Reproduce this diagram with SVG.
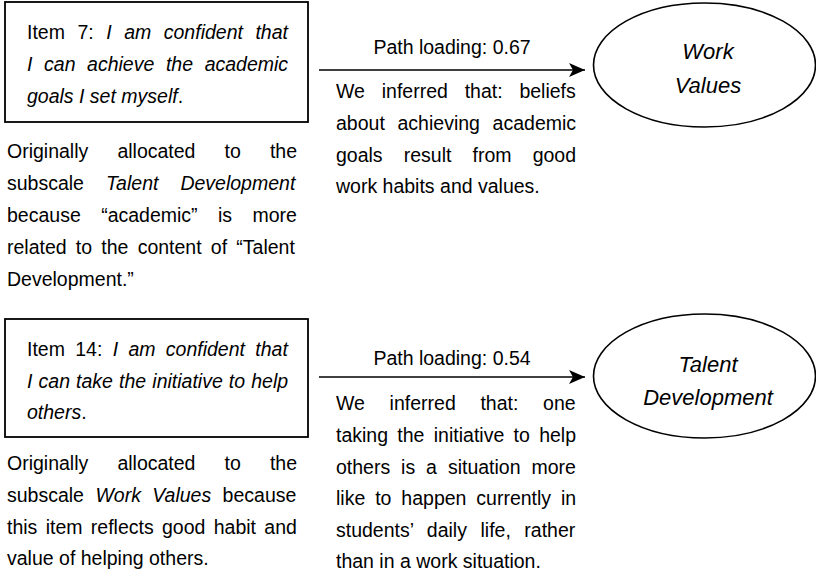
<svg xmlns="http://www.w3.org/2000/svg" width="816" height="573" viewBox="0 0 816 573">
  <defs>
    <style>
      text { font-family: "Liberation Sans", Arial, sans-serif; font-size: 19.5px; fill: #000; }
      .it { font-style: italic; }
      .mid { text-anchor: middle; }
      .factor { font-size: 22px; font-style: italic; text-anchor: middle; }
      .box { fill: #fff; stroke: #000; stroke-width: 1.8; }
      .oval { fill: #fff; stroke: #000; stroke-width: 1.6; }
      .edge { fill: none; stroke: #000; stroke-width: 1.6; marker-end: url(#head); }
    </style>
    <marker id="head" viewBox="-17 -8 19 16" refX="0" refY="0" markerWidth="19" markerHeight="16" markerUnits="userSpaceOnUse" orient="auto">
      <path d="M0,0 L-16,-7 L-12,0 L-16,7 Z" fill="#000"/>
    </marker>
  </defs>
  <rect width="816" height="573" fill="#fff"/>

  <!-- Item 7 -->
  <g id="item7">
    <rect class="box" x="5" y="2" width="303" height="120"/>
    <text x="27" y="39" word-spacing="7.1">Item 7: <tspan class="it">I am confident that</tspan></text>
    <text x="27" y="71" word-spacing="6.2" class="it">I can achieve the academic</text>
    <text x="27" y="103"><tspan class="it">goals I set myself</tspan>.</text>
  </g>
  <g id="item7-note">
    <text x="7" y="158" word-spacing="23.7">Originally allocated to the</text>
    <text x="7" y="190" word-spacing="16.6">subscale <tspan class="it">Talent Development</tspan></text>
    <text x="7" y="222" word-spacing="15">because “academic” is more</text>
    <text x="7" y="254" word-spacing="3.8">related to the content of “Talent</text>
    <text x="7" y="286">Development.”</text>
  </g>

  <!-- Work Values factor -->
  <g id="work-values">
    <ellipse class="oval" cx="704.5" cy="65" rx="111" ry="62"/>
    <text class="factor" x="708" y="59">Work</text>
    <text class="factor" x="708" y="93">Values</text>
  </g>

  <!-- Item 14 -->
  <g id="item14">
    <rect class="box" x="5" y="319" width="303" height="118"/>
    <text x="27" y="356" word-spacing="4.9">Item 14: <tspan class="it">I am confident that</tspan></text>
    <text x="27" y="388" word-spacing="0.7" class="it">I can take the initiative to help</text>
    <text x="27" y="419"><tspan class="it">others</tspan>.</text>
  </g>
  <g id="item14-note">
    <text x="7" y="470" word-spacing="23.7">Originally allocated to the</text>
    <text x="7" y="502" word-spacing="6">subscale <tspan class="it">Work Values</tspan> because</text>
    <text x="7" y="534" word-spacing="2.9">this item reflects good habit and</text>
    <text x="7" y="565">value of helping others.</text>
  </g>

  <!-- Talent Development factor -->
  <g id="talent-development">
    <ellipse class="oval" cx="704.5" cy="376" rx="111" ry="62"/>
    <text class="factor" x="708" y="372">Talent</text>
    <text class="factor" x="708" y="405">Development</text>
  </g>

  <!-- Connectors with their labels -->
  <g id="connectors">
    <line class="edge" x1="319" y1="70" x2="585" y2="70"/>
    <text class="mid" x="452" y="54">Path loading: 0.67</text>
    <text x="336" y="98" word-spacing="11.4">We inferred that: beliefs</text>
    <text x="336" y="130" word-spacing="7.3">about achieving academic</text>
    <text x="336" y="162" word-spacing="15.7">goals result from good</text>
    <text x="336" y="193">work habits and values.</text>

    <line class="edge" x1="319" y1="377" x2="585" y2="377"/>
    <text class="mid" x="452" y="365">Path loading: 0.54</text>
    <text x="336" y="410" word-spacing="19.3">We inferred that: one</text>
    <text x="336" y="442" word-spacing="3.9">taking the initiative to help</text>
    <text x="336" y="474" word-spacing="5.5">others is a situation more</text>
    <text x="336" y="505" word-spacing="4.5">like to happen currently in</text>
    <text x="336" y="537" word-spacing="8.1">students’ daily life, rather</text>
    <text x="336" y="568">than in a work situation.</text>
  </g>
</svg>
